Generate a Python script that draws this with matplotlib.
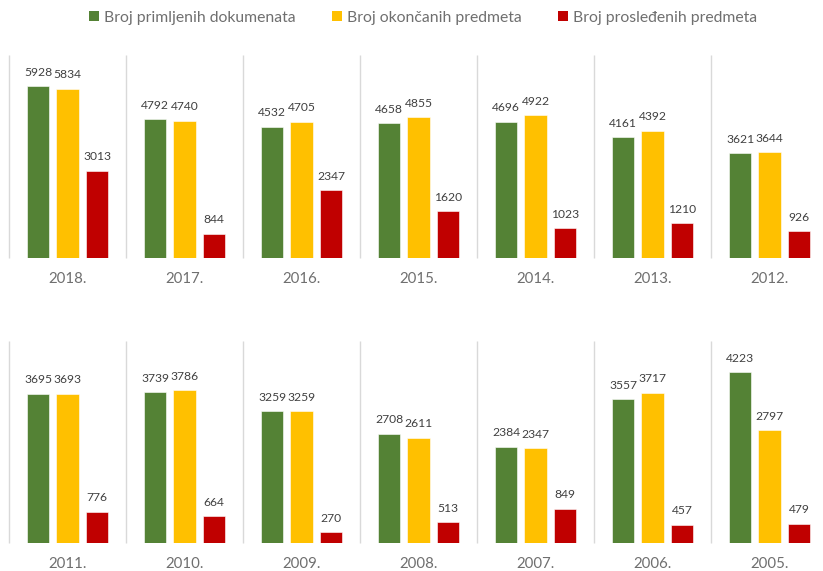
import matplotlib.pyplot as plt
from matplotlib.patches import Patch

plt.rcParams['font.family'] = ['Lato', 'DejaVu Sans']

series_names = ['Broj primljenih dokumenata', 'Broj okončanih predmeta', 'Broj prosleđenih predmeta']
colors = ['#548235', '#ffc000', '#c00000']

years_top = ['2018.', '2017.', '2016.', '2015.', '2014.', '2013.', '2012.']
primljeni_top = [5928, 4792, 4532, 4658, 4696, 4161, 3621]
okoncani_top = [5834, 4740, 4705, 4855, 4922, 4392, 3644]
proslednjeni_top = [3013, 844, 2347, 1620, 1023, 1210, 926]

years_bottom = ['2011.', '2010.', '2009.', '2008.', '2007.', '2006.', '2005.']
primljeni_bottom = [3695, 3739, 3259, 2708, 2384, 3557, 4223]
okoncani_bottom = [3693, 3786, 3259, 2611, 2347, 3717, 2797]
proslednjeni_bottom = [776, 664, 270, 513, 849, 457, 479]

W, H = 823, 571
fig = plt.figure(figsize=(W / 100, H / 100), dpi=100)


def draw_row(top_px, bottom_px, ymax, years, data):
    ax = fig.add_axes([9 / W, 1 - bottom_px / H, 819 / W, (bottom_px - top_px) / H])
    n = len(years)
    offsets = [-0.252, 0, 0.252]
    for k, vals in enumerate(data):
        xs = [i + offsets[k] for i in range(n)]
        bars = ax.bar(xs, vals, width=0.19, color=colors[k],
                      edgecolor='white', linewidth=0.4)
        for b, v in zip(bars, vals):
            ax.annotate(str(v), (b.get_x() + b.get_width() / 2, v),
                        xytext=(0, 6), textcoords='offset points',
                        ha='center', va='bottom', fontsize=8.7, color='#404040')
    # separators between the year groups
    ax.vlines([i - 0.5 for i in range(n + 1)], 0, ymax, color='#d9d9d9',
              linewidth=1, clip_on=False)
    ax.set_xlim(-0.5, n - 0.5)
    ax.set_ylim(0, ymax)
    ax.set_xticks(range(n))
    ax.set_xticklabels(years, fontsize=10.8, color='#6f6f6f')
    ax.tick_params(axis='x', length=0, pad=10)
    ax.set_yticks([])
    for s in ax.spines.values():
        s.set_visible(False)
    return ax


draw_row(55, 258, 7000, years_top, [primljeni_top, okoncani_top, proslednjeni_top])
draw_row(341, 543, 5000, years_bottom, [primljeni_bottom, okoncani_bottom, proslednjeni_bottom])

handles = [Patch(facecolor=c, edgecolor='none') for c in colors]
fig.legend(handles, series_names, loc='center', bbox_to_anchor=(423 / W, 1 - 18 / H),
           ncol=3, frameon=False, fontsize=11.3, labelcolor='#6f6f6f',
           handlelength=0.6, handleheight=0.6, handletextpad=0.32,
           columnspacing=2.35)

fig.savefig('out.png', dpi=100)
